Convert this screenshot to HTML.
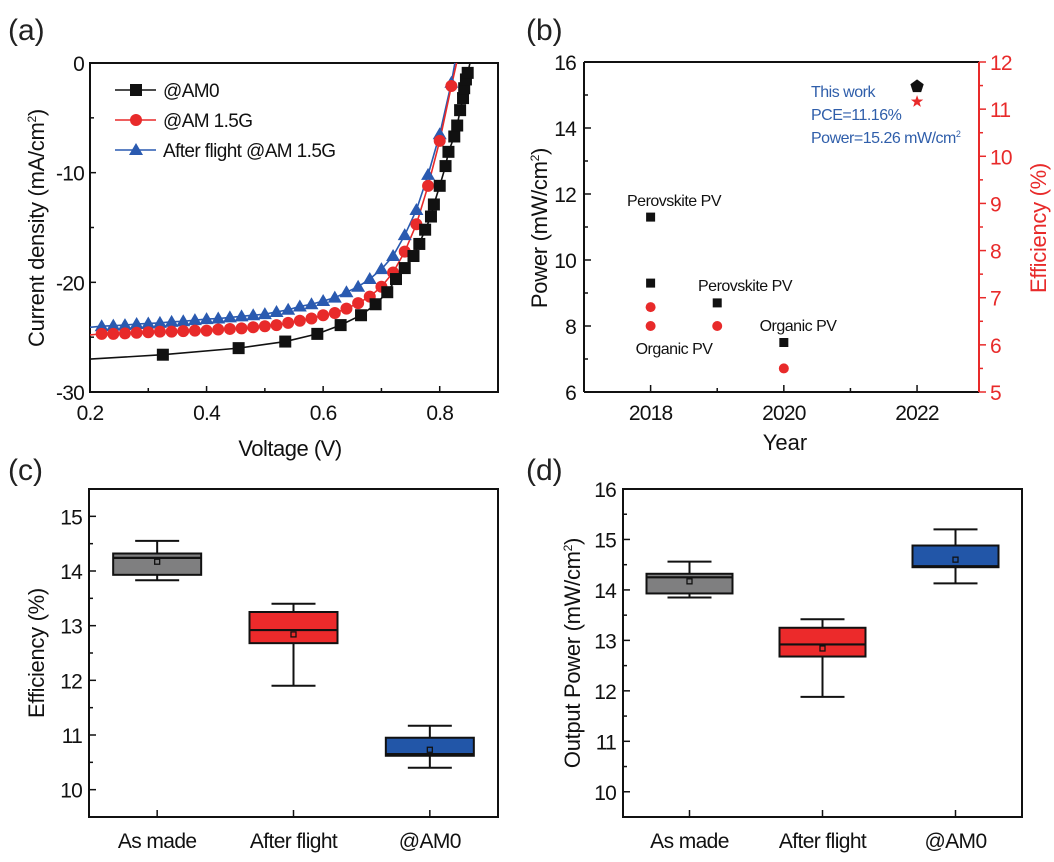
<!DOCTYPE html>
<html><head><meta charset="utf-8"><style>
body{margin:0;background:#fff}
svg text{font-family:"Liberation Sans",sans-serif}
</style></head><body>
<svg id="s" width="1054" height="857" xmlns="http://www.w3.org/2000/svg"></svg>
<script>
// Panel a data
const vRed=[0.22,0.24,0.26,0.28,0.30,0.32,0.34,0.36,0.38,0.40,0.42,0.44,0.46,0.48,0.50,0.52,0.54,0.56,0.58,0.60,0.62,0.64,0.66,0.68,0.70,0.72,0.74,0.76,0.78,0.80,0.82];
const jRed=[-24.7,-24.7,-24.65,-24.6,-24.55,-24.5,-24.5,-24.45,-24.4,-24.4,-24.3,-24.25,-24.2,-24.1,-24.0,-23.9,-23.7,-23.5,-23.3,-23.0,-22.8,-22.4,-21.9,-21.3,-20.4,-19.1,-17.2,-14.7,-11.2,-7.1,-2.1];
const jBlue=[-24.0,-23.95,-23.9,-23.8,-23.75,-23.7,-23.6,-23.55,-23.45,-23.35,-23.3,-23.2,-23.1,-23.0,-22.9,-22.7,-22.5,-22.2,-22.0,-21.7,-21.4,-20.9,-20.4,-19.7,-18.8,-17.6,-15.7,-13.4,-10.2,-6.5,-1.8];
const vBlack=[0.325,0.455,0.535,0.59,0.63,0.665,0.69,0.71,0.725,0.74,0.755,0.765,0.775,0.785,0.79,0.80,0.81,0.815,0.825,0.83,0.835,0.84,0.842,0.845,0.848];
const jBlack=[-26.6,-26.0,-25.4,-24.7,-23.9,-23.0,-22.0,-20.9,-19.7,-18.7,-17.6,-16.5,-15.2,-14.0,-12.9,-11.2,-9.4,-8.1,-6.7,-5.7,-4.3,-3.2,-2.3,-1.5,-0.9];
// Panel b data
const bPowYears=[2018,2018,2019,2020];
const bPow=[11.3,9.3,8.7,7.5];
const bEffYears=[2018,2018,2019,2020];
const bEff=[6.8,6.4,6.4,5.5];
const thisYear=2022, thisPow=15.26, thisEff=11.16;
// Panels c,d data
const boxCats=["As made","After flight","@AM0"];
const boxColors=["#7f7f80","#ec2a2b","#2256a8"];
const effMin=[13.83,11.9,10.4], effQ1=[13.93,12.68,10.62], effMed=[14.24,12.92,10.65], effQ3=[14.32,13.25,10.95], effMax=[14.55,13.4,11.17], effMean=[14.17,12.84,10.73];
const powMin=[13.85,11.88,14.13], powQ1=[13.93,12.68,14.45], powMed=[14.25,12.92,14.47], powQ3=[14.32,13.25,14.88], powMax=[14.56,13.42,15.2], powMean=[14.17,12.84,14.6];

const S=document.getElementById('s');const NS='http://www.w3.org/2000/svg';
function mk(tag,at,txt){const e=document.createElementNS(NS,tag);for(const k in at)e.setAttribute(k,at[k]);if(txt!==undefined)e.textContent=txt;S.appendChild(e);return e;}
function lin(d0,d1,r0,r1){return v=>r0+(v-d0)/(d1-d0)*(r1-r0);}
function txt(x,y,s,size,opt){opt=opt||{};const e=mk('text',{x:x,y:y,'font-size':size,'text-anchor':opt.a||'middle',fill:opt.c||'#111','letter-spacing':opt.ls||0});if(opt.r)e.setAttribute('transform','rotate(-90 '+x+' '+y+')');e.innerHTML=s;return e;}
function frame(l,t,r,b){const e=mk('rect',{x:l,y:t,width:r-l,height:b-t,fill:'none',stroke:'#111','stroke-width':2});return e;}
const TK=21, TL=-0.8;

// Panel labels
[['(a)',8,40],['(b)',526,40],['(c)',8,480],['(d)',526,480]].forEach(p=>{const e=txt(p[1],p[2],p[0],30,{a:'start',c:'#222'});});

// ===== Panel a =====
{const X=lin(0.2,0.9,90,498),Y=lin(0,-30,63,392);
const f=frame(90,63,498,392);
[0.2,0.4,0.6,0.8].forEach(v=>{mk('line',{x1:X(v),x2:X(v),y1:392,y2:386,stroke:'#111','stroke-width':1.5});const t=txt(X(v),420,v.toFixed(1),TK,{ls:TL});});
[0.3,0.5,0.7].forEach(v=>mk('line',{x1:X(v),x2:X(v),y1:392,y2:388,stroke:'#111','stroke-width':1.5}));
[0,-10,-20,-30].forEach(v=>{mk('line',{x1:90,x2:96,y1:Y(v),y2:Y(v),stroke:'#111','stroke-width':1.5});const t=txt(84,Y(v)+8,v==0?'0':v,TK,{a:'end',ls:TL});});
[-5,-15,-25].forEach(v=>mk('line',{x1:90,x2:94,y1:Y(v),y2:Y(v),stroke:'#111','stroke-width':1.5}));
let t=txt(290,456,'Voltage (V)',22,{ls:-0.5});
t=txt(44,228,'Current density (mA/cm<tspan dy="-8" font-size="12">2</tspan><tspan dy="8">)</tspan>',22,{r:1,ls:-0.3});
const cl=mk('clipPath',{id:'ca'});const cr=document.createElementNS(NS,'rect');cr.setAttribute('x',90);cr.setAttribute('y',63);cr.setAttribute('width',408);cr.setAttribute('height',329);cl.appendChild(cr);
function line(vs,js,start,endV,col,name){let pts=[[X(0.2),Y(start)]];vs.forEach((v,i)=>pts.push([X(v),Y(js[i])]));pts.push([X(endV),Y(0)]);const e=mk('polyline',{points:pts.map(p=>p.join(',')).join(' '),fill:'none',stroke:col,'stroke-width':1.6,'clip-path':'url(#ca)'});}
line(vRed,jBlue,-24.1,0.826,'#2a5ab0','series-after-flight-line');
line(vRed,jRed,-24.8,0.829,'#e82a2a','series-am15g-line');
line(vBlack,jBlack,-27.0,0.852,'#111','series-am0-line');
vRed.forEach((v,i)=>{const x=X(v),y=Y(jBlue[i]);const e=mk('polygon',{points:`${x},${y-7} ${x-7},${y+5} ${x+7},${y+5}`,fill:'#2a5ab0'});});
vRed.forEach((v,i)=>{const e=mk('circle',{cx:X(v),cy:Y(jRed[i]),r:6,fill:'#e82a2a'});});
vBlack.forEach((v,i)=>{const e=mk('rect',{x:X(v)-6,y:Y(jBlack[i])-6,width:12,height:12,fill:'#111'});});
// legend
const lg=[['@AM0','#111','s',90],['@AM 1.5G','#e82a2a','c',120],['After flight @AM 1.5G','#2a5ab0','t',150]];
lg.forEach(l=>{mk('line',{x1:115,x2:156,y1:l[3],y2:l[3],stroke:l[1],'stroke-width':1.6});const x=136,y=l[3];let m;
if(l[2]=='s')m=mk('rect',{x:x-6,y:y-6,width:12,height:12,fill:l[1]});else if(l[2]=='c')m=mk('circle',{cx:x,cy:y,r:6,fill:l[1]});else m=mk('polygon',{points:`${x},${y-7} ${x-7},${y+5} ${x+7},${y+5}`,fill:l[1]});

const tt=txt(163,y+7,l[0],19,{a:'start',ls:-0.6});});
}

// ===== Panel b =====
{const X=lin(2017,2022.93,584,979),Y=lin(6,16,392,62),YR=lin(5,12,392,62);
mk('line',{x1:584,x2:979,y1:62,y2:62,stroke:'#111','stroke-width':2});mk('line',{x1:584,x2:979,y1:392,y2:392,stroke:'#111','stroke-width':2});mk('line',{x1:584,x2:584,y1:62,y2:392,stroke:'#111','stroke-width':2});
mk('line',{x1:979,x2:979,y1:62,y2:392,stroke:'#e82a2a','stroke-width':2});
[2018,2020,2022].forEach(v=>{mk('line',{x1:X(v),x2:X(v),y1:392,y2:385,stroke:'#111','stroke-width':1.5});const t=txt(X(v),420,v,TK,{ls:TL});});
[2019,2021].forEach(v=>mk('line',{x1:X(v),x2:X(v),y1:392,y2:388,stroke:'#111','stroke-width':1.5}));
[6,8,10,12,14,16].forEach(v=>{mk('line',{x1:584,x2:591,y1:Y(v),y2:Y(v),stroke:'#111','stroke-width':1.5});const t=txt(576,Y(v)+8,v,TK,{a:'end',ls:TL});});
[7,9,11,13,15].forEach(v=>mk('line',{x1:584,x2:588,y1:Y(v),y2:Y(v),stroke:'#111','stroke-width':1.5}));
[5,6,7,8,9,10,11,12].forEach(v=>{mk('line',{x1:979,x2:986,y1:YR(v),y2:YR(v),stroke:'#e82a2a','stroke-width':1.5});const t=txt(990,YR(v)+8,v,TK,{a:'start',c:'#e82a2a',ls:TL});});
[5.5,6.5,7.5,8.5,9.5,10.5,11.5].forEach(v=>mk('line',{x1:979,x2:983,y1:YR(v),y2:YR(v),stroke:'#e82a2a','stroke-width':1.5}));
let t=txt(785,450,'Year',22);
t=txt(547,228,'Power (mW/cm<tspan dy="-8" font-size="12">2</tspan><tspan dy="8">)</tspan>',22,{r:1,ls:-0.3});
t=txt(1046,228,'Efficiency (%)',22,{r:1,c:'#e82a2a',ls:-0.3});
bPowYears.forEach((y,i)=>{const e=mk('rect',{x:X(y)-4.5,y:Y(bPow[i])-4.5,width:9,height:9,fill:'#111'});});
bEffYears.forEach((y,i)=>{const e=mk('circle',{cx:X(y),cy:YR(bEff[i]),r:5,fill:'#e82a2a'});});
{const x=X(thisYear),y=Y(thisPow);let p=[];for(let k=0;k<5;k++){const a=-Math.PI/2+k*2*Math.PI/5;p.push((x+7*Math.cos(a))+','+(y+7*Math.sin(a)));}const e=mk('polygon',{points:p.join(' '),fill:'#111'});
const yr=YR(thisEff);p=[];for(let k=0;k<10;k++){const a=-Math.PI/2+k*Math.PI/5,r=k%2?2.6:6.5;p.push((x+r*Math.cos(a))+','+(yr+r*Math.sin(a)));}const s=mk('polygon',{points:p.join(' '),fill:'#e82a2a'});}
[['Perovskite PV',674,206],['Perovskite PV',745,291],['Organic PV',798,331],['Organic PV',674,354]].forEach(a=>{const e=txt(a[1],a[2],a[0],16,{ls:-0.5});});
[['This work',97],['PCE=11.16%',120],['Power=15.26 mW/cm<tspan dy="-6" font-size="9">2</tspan>',143]].forEach(a=>{const e=txt(811,a[1],a[0],16,{a:'start',c:'#2f5eaa',ls:-0.5});});
}

// ===== Panels c,d =====
function boxPanel(l,r,t,b,ymin,ymax,ticks,mins,q1,med,q3,maxs,means,title,titleX,bw){
const Y=lin(ymin,ymax,b,t);const X=i=>l+(r-l)*(2*i+1)/6;
frame(l,t,r,b);
ticks.forEach(v=>{mk('line',{x1:l,x2:l+7,y1:Y(v),y2:Y(v),stroke:'#111','stroke-width':1.5});const e=txt(l-7,Y(v)+8,v,TK,{a:'end',ls:TL});});
ticks.forEach(v=>{if(v+0.5<ymax)mk('line',{x1:l,x2:l+4,y1:Y(v+0.5),y2:Y(v+0.5),stroke:'#111','stroke-width':1.5});});
boxCats.forEach((c,i)=>{const x=X(i);mk('line',{x1:x,x2:x,y1:b,y2:b-7,stroke:'#111','stroke-width':1.5});
const e=txt(x,b+31,c,21,{ls:-0.6});
mk('line',{x1:x,x2:x,y1:Y(maxs[i]),y2:Y(mins[i]),stroke:'#111','stroke-width':2});
[mins[i],maxs[i]].forEach(v=>mk('line',{x1:x-22,x2:x+22,y1:Y(v),y2:Y(v),stroke:'#111','stroke-width':2}));
const bx=mk('rect',{x:x-bw/2,y:Y(q3[i]),width:bw,height:Y(q1[i])-Y(q3[i]),fill:boxColors[i],stroke:'#111','stroke-width':2});
mk('line',{x1:x-bw/2,x2:x+bw/2,y1:Y(med[i]),y2:Y(med[i]),stroke:'#111','stroke-width':2.2});
mk('rect',{x:x-2.5,y:Y(means[i])-2.5,width:5,height:5,fill:'none',stroke:'#111','stroke-width':1.3});});
const e=txt(titleX,(t+b)/2,title,22,{r:1,ls:-0.3});}
boxPanel(89,498,489,817,9.5,15.5,[10,11,12,13,14,15],effMin,effQ1,effMed,effQ3,effMax,effMean,'Efficiency (%)',44,88);
boxPanel(623,1022,489,817,9.5,16,[10,11,12,13,14,15,16],powMin,powQ1,powMed,powQ3,powMax,powMean,'Output Power (mW/cm<tspan dy="-8" font-size="12">2</tspan><tspan dy="8">)</tspan>',580,86);
</script>
</body></html>
